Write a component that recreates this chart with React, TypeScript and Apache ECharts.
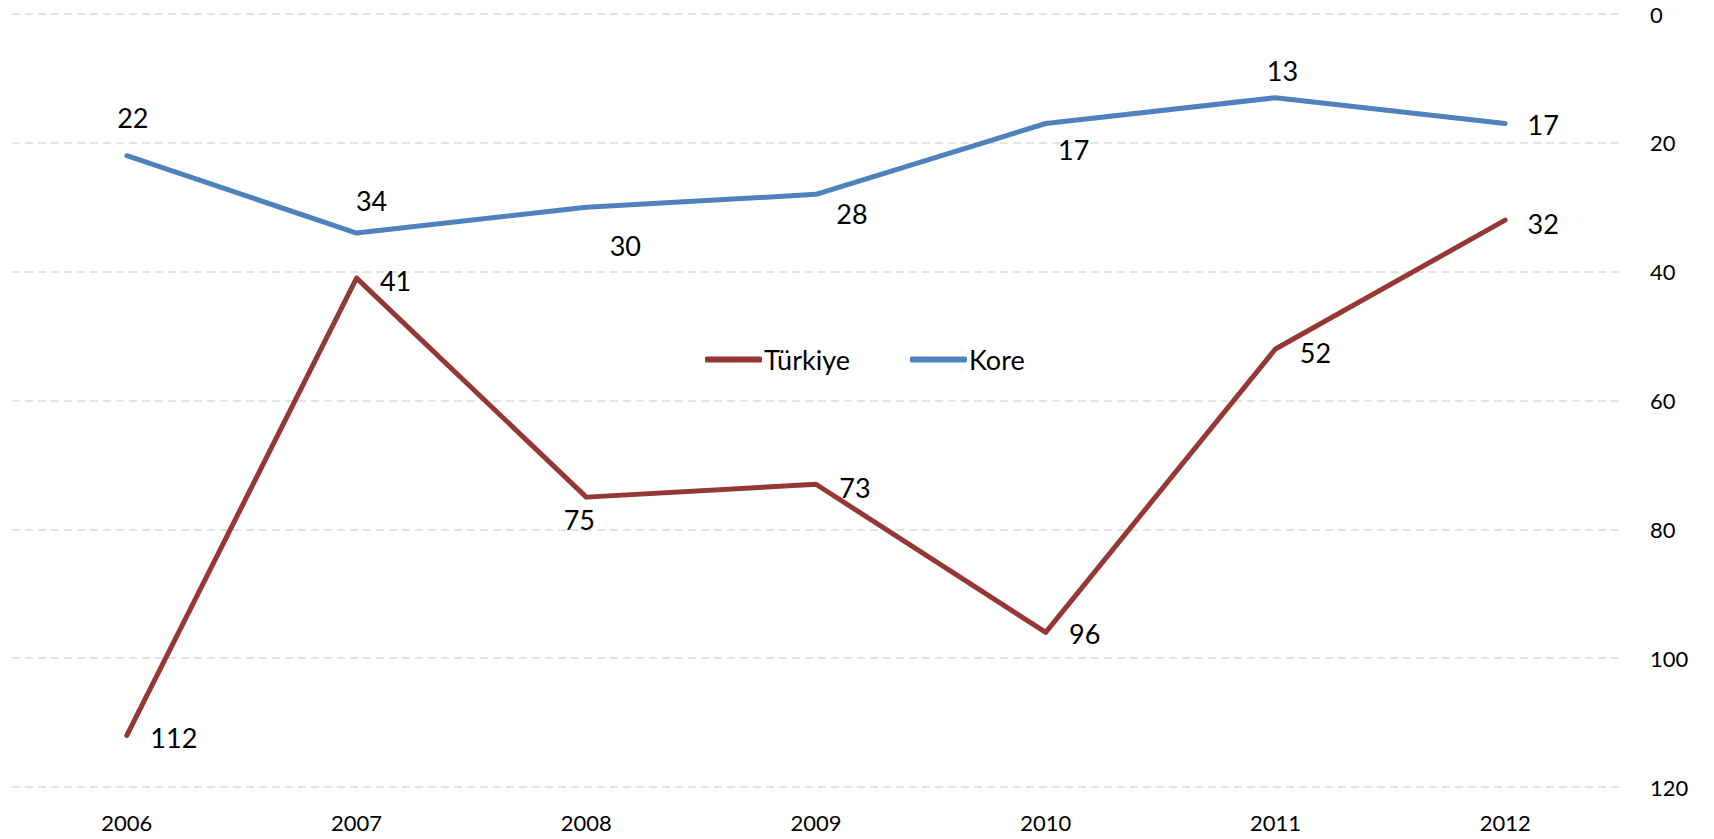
import React, { useEffect, useRef } from "react";
import * as echarts from "echarts";

const years = ["2006", "2007", "2008", "2009", "2010", "2011", "2012"];
const turkiye = [112, 41, 75, 73, 96, 52, 32];
const kore = [22, 34, 30, 28, 17, 13, 17];
const yTicks = { min: 0, max: 120, interval: 20 };

// label offsets (label centre relative to the point), px
const turkiyeLabelOffsets: [number, number][] = [
  [47, 2], [39, 2], [-7, 22], [39, 3], [39, 1], [40, 4], [38, 3],
];
const koreLabelOffsets: [number, number][] = [
  [6, -38], [15, -33], [39, 38], [36, 19], [28, 26], [7, -27], [38, 1],
];

const FONT = "Lato, 'Open Sans', sans-serif";

function buildData(values: number[], offsets: [number, number][]) {
  return values.map((v, i) => ({
    value: v,
    label: { position: "inside", offset: offsets[i] },
  }));
}

export default function App() {
  const ref = useRef<HTMLDivElement>(null);
  useEffect(() => {
    document.body.style.margin = "0";
    const chart = echarts.init(ref.current!, null, { renderer: "svg" });
    const labelStyle = {
      show: true,
      color: "#000",
      fontSize: 27,
      fontFamily: FONT,
    };
    chart.setOption({
      animation: false,
      backgroundColor: "#fff",
      grid: { left: 12, right: 94, top: 14, bottom: 52, containLabel: false },
      legend: {
        data: ["Türkiye", "Kore"],
        left: 700,
        top: 341,
        icon: "roundRect",
        itemWidth: 57,
        itemHeight: 6,
        itemGap: 60,
        textStyle: { fontSize: 27, fontFamily: FONT, color: "#000", padding: [0, 0, 0, -3] },
      },
      xAxis: {
        type: "category",
        data: years,
        boundaryGap: true,
        axisLine: { show: false },
        axisTick: { show: false },
        axisLabel: { color: "#000", fontSize: 22, fontFamily: FONT, margin: 24 },
      },
      yAxis: {
        type: "value",
        position: "right",
        inverse: true,
        min: yTicks.min,
        max: yTicks.max,
        interval: yTicks.interval,
        axisLine: { show: false },
        axisTick: { show: false },
        axisLabel: { color: "#000", fontSize: 22, fontFamily: FONT, margin: 30, align: "left" },
        splitLine: { lineStyle: { color: "#dcdcdc", width: 1.5, type: [8, 5] } },
      },
      series: [
        {
          name: "Türkiye",
          type: "line",
          data: buildData(turkiye, turkiyeLabelOffsets),
          symbol: "circle",
          symbolSize: 1,
          showSymbol: true,
          lineStyle: { color: "#953735", width: 5, cap: "round", join: "round" },
          itemStyle: { color: "#953735" },
          label: labelStyle,
        },
        {
          name: "Kore",
          type: "line",
          data: buildData(kore, koreLabelOffsets),
          symbol: "circle",
          symbolSize: 1,
          showSymbol: true,
          lineStyle: { color: "#4F81BD", width: 5, cap: "round", join: "round" },
          itemStyle: { color: "#4F81BD" },
          label: labelStyle,
        },
      ],
    });
    return () => chart.dispose();
  }, []);
  return (
    <div
      ref={ref}
      style={{ position: "fixed", left: 0, top: 0, width: 1714, height: 839 }}
    />
  );
}
